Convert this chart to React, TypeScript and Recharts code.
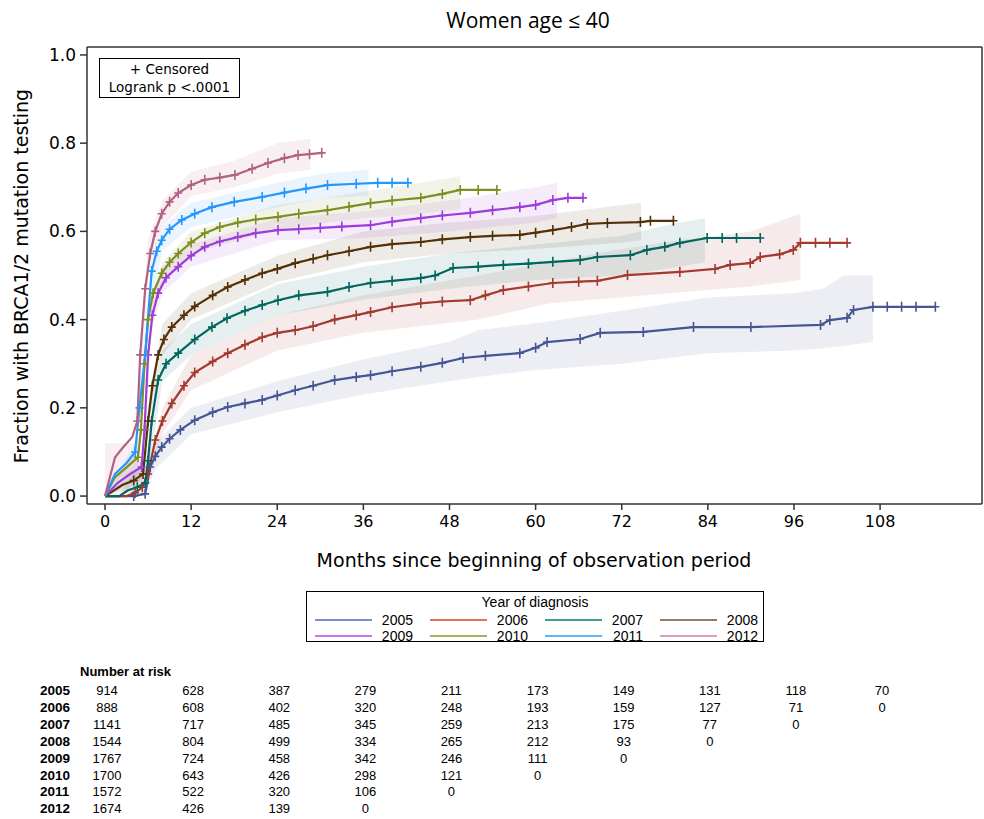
import React from 'react'
import { ComposedChart, Line, Area, XAxis, YAxis } from 'recharts'

type Pt = [number, number]
type Band = [number, number, number]

const years = ['2005', '2006', '2007', '2008', '2009', '2010', '2011', '2012']
const lineColors = ['#445694', '#A23A2E', '#01665E', '#543005', '#9D3CDB', '#7F8E1F', '#2597FA', '#B26084']
const legendColors = ['#7f88d4', '#e0725f', '#3f9e8e', '#9c7b5c', '#c278f0', '#aab05c', '#62b4f5', '#e0a0b4']

// months, fraction tested
const curve2005: Pt[] = [
  [0, 0], [4, 0], [5.6, 0.005], [6.3, 0.066], [7, 0.09], [7.9, 0.111], [9, 0.13], [10.5, 0.15], [12.5, 0.172],
  [15, 0.19], [17.1, 0.202], [19.5, 0.21], [21.9, 0.218], [24, 0.228], [26.5, 0.24], [29, 0.25], [32, 0.263],
  [35, 0.27], [37, 0.274], [40, 0.283], [44, 0.293], [47, 0.302], [49.9, 0.313], [53, 0.318], [57.8, 0.324],
  [60, 0.336], [61.6, 0.349], [66.2, 0.356], [69, 0.37], [75, 0.372], [82, 0.383], [90, 0.383], [99.7, 0.388],
  [101, 0.399], [103.4, 0.404], [104.3, 0.422], [107, 0.429], [109, 0.429], [111, 0.429], [113, 0.429], [115.7, 0.429],
]
const curve2006: Pt[] = [
  [0, 0], [3, 0], [4.2, 0.007], [5.2, 0.02], [6, 0.05], [7, 0.127], [8, 0.17], [9.3, 0.21], [11, 0.25], [12.5, 0.28],
  [15, 0.305], [17.1, 0.324], [19.5, 0.343], [21.9, 0.36], [24, 0.37], [26.5, 0.376], [29, 0.385], [32, 0.4],
  [35, 0.41], [37, 0.417], [40, 0.428], [44, 0.437], [47, 0.441], [50.9, 0.444], [53, 0.455], [55.5, 0.467],
  [59, 0.475], [62.4, 0.483], [66, 0.486], [68.6, 0.488], [72.8, 0.501], [80.1, 0.508], [85, 0.515], [87.1, 0.524],
  [89.9, 0.528], [91.3, 0.542], [94, 0.548], [95.9, 0.558], [96.9, 0.574], [99, 0.574], [101, 0.574], [103.4, 0.574],
]
const curve2007: Pt[] = [
  [0, 0], [2, 0], [3.2, 0.013], [4.5, 0.02], [5.6, 0.03], [6, 0.08], [6.5, 0.17], [7.4, 0.263], [8.5, 0.3],
  [10.2, 0.324], [12.5, 0.355], [14.9, 0.383], [17, 0.403], [19.5, 0.42], [21.9, 0.433], [24.1, 0.444], [27, 0.455],
  [31, 0.463], [34, 0.474], [37, 0.483], [40, 0.488], [44, 0.494], [46, 0.5], [48.5, 0.517], [52, 0.52],
  [55.5, 0.524], [59, 0.527], [62.4, 0.531], [66.2, 0.535], [68.6, 0.542], [73.2, 0.546], [75.5, 0.558], [78, 0.565],
  [80.1, 0.574], [83.9, 0.585], [86, 0.585], [88, 0.585], [91.3, 0.585],
]
const curve2008: Pt[] = [
  [0, 0], [1, 0.01], [2.4, 0.025], [4, 0.035], [5.3, 0.05], [6, 0.17], [6.6, 0.25], [7.4, 0.32], [8.2, 0.355],
  [9.3, 0.383], [11, 0.41], [12.5, 0.43], [15, 0.455], [17.1, 0.474], [19.5, 0.49], [21.9, 0.505], [24, 0.515],
  [26.5, 0.528], [29, 0.538], [31, 0.546], [34, 0.555], [37, 0.565], [40, 0.571], [44, 0.576], [47, 0.582],
  [50.9, 0.587], [54, 0.59], [57.8, 0.592], [60, 0.597], [62.4, 0.603], [65, 0.61], [67.2, 0.617], [70, 0.619],
  [74.6, 0.621], [76, 0.624], [79.2, 0.624],
]
const curve2009: Pt[] = [
  [0, 0], [1.8, 0.03], [3.5, 0.05], [5.1, 0.066], [5.5, 0.15], [6, 0.32], [6.6, 0.41], [7.4, 0.46], [8.5, 0.495],
  [10.2, 0.52], [12, 0.545], [13.9, 0.565], [16, 0.577], [18.5, 0.587], [21, 0.596], [24.1, 0.603], [27, 0.605],
  [30, 0.608], [33, 0.611], [37, 0.614], [40, 0.622], [44, 0.63], [47, 0.636], [50.9, 0.642], [54, 0.648],
  [57.8, 0.655], [60, 0.66], [62.4, 0.671], [64.5, 0.676], [66.6, 0.676],
]
const curve2010: Pt[] = [
  [0, 0], [1.4, 0.043], [3, 0.065], [4.6, 0.088], [5, 0.15], [5.5, 0.3], [6, 0.4], [6.7, 0.46], [7.9, 0.505],
  [9, 0.53], [10.2, 0.55], [12, 0.575], [13.9, 0.596], [16, 0.61], [18.5, 0.62], [21, 0.627], [24.1, 0.633],
  [27, 0.64], [31, 0.648], [34, 0.656], [37, 0.664], [40, 0.67], [44, 0.676], [47, 0.685], [49.5, 0.694],
  [52, 0.694], [54.6, 0.694],
]
const curve2011: Pt[] = [
  [0, 0], [1.4, 0.05], [3, 0.075], [4.2, 0.1], [4.8, 0.2], [5.6, 0.32], [6.5, 0.51], [7.2, 0.555], [7.9, 0.58],
  [9, 0.605], [10.7, 0.626], [12.5, 0.64], [14.9, 0.655], [18, 0.667], [21.9, 0.678], [25, 0.688], [28, 0.697],
  [31, 0.705], [35, 0.708], [38, 0.71], [40, 0.71], [42.2, 0.71],
]
const curve2012: Pt[] = [
  [0, 0], [1.4, 0.088], [2.5, 0.11], [3.8, 0.134], [4.5, 0.17], [4.9, 0.32], [5.6, 0.47], [6.3, 0.55], [7, 0.6],
  [7.9, 0.64], [9, 0.667], [10.2, 0.687], [12, 0.705], [13.9, 0.717], [16, 0.722], [18.1, 0.728], [20.5, 0.742],
  [22.7, 0.755], [25, 0.766], [26.9, 0.773], [28.5, 0.775], [30.2, 0.778],
]

// months, lower, upper confidence limit
const band2005: Band[] = [
  [4, 0, 0], [5.6, 0, 0.02], [7, 0.06, 0.12], [12, 0.14, 0.2], [24, 0.19, 0.26], [36, 0.23, 0.31], [48, 0.26, 0.35],
  [52, 0.27, 0.376], [60, 0.286, 0.392], [72, 0.3, 0.42], [84, 0.324, 0.45], [96, 0.33, 0.46], [100, 0.335, 0.47],
  [103, 0.34, 0.5], [107, 0.35, 0.5],
]
const band2006: Band[] = [
  [3, 0, 0], [6, 0.03, 0.07], [8, 0.14, 0.2], [12, 0.24, 0.32], [24, 0.33, 0.41], [36, 0.37, 0.455], [52, 0.4, 0.5],
  [62, 0.437, 0.53], [72, 0.45, 0.56], [80, 0.462, 0.58], [90, 0.475, 0.6], [96.9, 0.49, 0.64],
]
const band2007: Band[] = [
  [2, 0, 0], [6, 0.05, 0.11], [8, 0.26, 0.33], [12, 0.32, 0.39], [24, 0.41, 0.48], [36, 0.445, 0.52],
  [48, 0.47, 0.55], [60, 0.49, 0.57], [72, 0.5, 0.59], [80, 0.52, 0.62], [83.6, 0.53, 0.63],
]
const band2008: Band[] = [
  [0, 0, 0], [5.3, 0.03, 0.07], [6, 0.15, 0.2], [8, 0.32, 0.39], [12, 0.4, 0.46], [24, 0.485, 0.545],
  [36, 0.53, 0.6], [48, 0.55, 0.62], [60, 0.56, 0.635], [72, 0.575, 0.66], [74.7, 0.58, 0.665],
]
const band2009: Band[] = [
  [0, 0, 0], [5.1, 0.05, 0.09], [5.5, 0.13, 0.17], [6.5, 0.38, 0.44], [8, 0.46, 0.52], [12, 0.52, 0.57],
  [24, 0.58, 0.63], [36, 0.585, 0.645], [48, 0.6, 0.67], [60, 0.62, 0.7], [63, 0.63, 0.71],
]
const band2010: Band[] = [
  [0, 0, 0], [4.6, 0.07, 0.11], [5, 0.13, 0.18], [6, 0.37, 0.43], [8, 0.48, 0.53], [12, 0.55, 0.6],
  [24, 0.605, 0.66], [36, 0.63, 0.69], [44, 0.64, 0.71], [49.5, 0.65, 0.725],
]
const band2011: Band[] = [
  [0, 0, 0], [4.2, 0.08, 0.12], [4.5, 0.12, 0.18], [6, 0.4, 0.47], [8, 0.555, 0.61], [12, 0.61, 0.665],
  [24, 0.655, 0.71], [30, 0.675, 0.73], [36.7, 0.68, 0.74],
]
const band2012: Band[] = [
  [0, 0, 0.12], [4.2, 0, 0.12], [4.6, 0.12, 0.2], [5, 0.28, 0.36], [6, 0.5, 0.58], [8, 0.61, 0.67],
  [12, 0.68, 0.735], [18, 0.7, 0.76], [24, 0.73, 0.8], [28.6, 0.74, 0.81],
]

const monthTicks = [0, 12, 24, 36, 48, 60, 72, 84, 96, 108]
const fractionTicks = [0, 0.2, 0.4, 0.6, 0.8, 1.0]

const risk2005 = [914, 628, 387, 279, 211, 173, 149, 131, 118, 70]
const risk2006 = [888, 608, 402, 320, 248, 193, 159, 127, 71, 0]
const risk2007 = [1141, 717, 485, 345, 259, 213, 175, 77, 0]
const risk2008 = [1544, 804, 499, 334, 265, 212, 93, 0]
const risk2009 = [1767, 724, 458, 342, 246, 111, 0]
const risk2010 = [1700, 643, 426, 298, 121, 0]
const risk2011 = [1572, 522, 320, 106, 0]
const risk2012 = [1674, 426, 139, 0]

const curves = [curve2005, curve2006, curve2007, curve2008, curve2009, curve2010, curve2011, curve2012]
const bands = [band2005, band2006, band2007, band2008, band2009, band2010, band2011, band2012]
const risks = [risk2005, risk2006, risk2007, risk2008, risk2009, risk2010, risk2011, risk2012]

const series = years.map((year, i) => ({
  year,
  color: lineColors[i],
  curve: curves[i].map(([m, v]) => ({ m, v })),
  band: bands[i].map(([m, lo, hi]) => ({ m, r: [lo, hi] })),
}))

// layout of the plot frame
const W = 984
const PLOT_L = 87
const PLOT_R = 982
const PLOT_T = 47
const PLOT_B = 504
const X_MIN = -2.51
const X_MAX = 122.2
const xPx = (m: number) => PLOT_L + ((m - X_MIN) / (X_MAX - X_MIN)) * (PLOT_R - PLOT_L)

const tickFont = { fill: '#000', fontSize: 17, fontFamily: 'DejaVu Sans' }

const plusDot = (color: string) => (props: any) => {
  const { cx, cy, index, payload } = props
  if (cx == null || cy == null || payload.m < 4) return <g key={`d${index}`} />
  return (
    <path
      key={`d${index}`}
      d={`M${cx - 4},${cy}h8M${cx},${cy - 5}v10`}
      stroke={color}
      strokeWidth={1.6}
      fill="none"
    />
  )
}

const abs = (left: number, top: number, extra: React.CSSProperties = {}): React.CSSProperties => ({
  position: 'absolute',
  left,
  top,
  whiteSpace: 'nowrap',
  ...extra,
})

export default function App() {
  return (
    <div style={{ position: 'absolute', left: 0, top: 0, width: W, height: 819, background: '#fff', fontFamily: 'DejaVu Sans', color: '#000' }}>
      <div style={abs(528, 20, { transform: 'translate(-50%,-50%)', fontFamily: 'Open Sans', fontSize: 21 })}>
        Women age ≤ 40
      </div>
      <div style={abs(21, 276, { transform: 'translate(-50%,-50%) rotate(-90deg)', fontSize: 19 })}>
        Fraction with BRCA1/2 mutation testing
      </div>
      <div style={abs(534, 560, { transform: 'translate(-50%,-50%)', fontSize: 19 })}>
        Months since beginning of observation period
      </div>

      <ComposedChart
        width={W}
        height={PLOT_B + 56}
        margin={{ top: PLOT_T - 1, right: W - PLOT_R - 1, bottom: 0, left: 0 }}
        style={{ position: 'absolute', left: 0, top: 0 }}
      >
        <XAxis
          xAxisId="b"
          type="number"
          dataKey="m"
          domain={[X_MIN, X_MAX]}
          ticks={monthTicks}
          allowDataOverflow
          height={56}
          tickSize={6}
          tickMargin={6}
          tick={{ ...tickFont, fontSize: 16 }}
          axisLine={{ stroke: '#333', strokeWidth: 1.5 }}
          tickLine={{ stroke: '#333', strokeWidth: 1.5 }}
        />
        <XAxis xAxisId="t" type="number" orientation="top" domain={[X_MIN, X_MAX]} height={1} tick={false} tickLine={false} axisLine={{ stroke: '#333', strokeWidth: 1.5 }} />
        <YAxis
          yAxisId="l"
          type="number"
          domain={[-0.018, 1.018]}
          ticks={fractionTicks}
          allowDataOverflow
          width={PLOT_L}
          tickSize={7}
          tickMargin={4}
          tick={tickFont}
          tickFormatter={(v: number) => v.toFixed(1)}
          axisLine={{ stroke: '#333', strokeWidth: 1.5 }}
          tickLine={{ stroke: '#333', strokeWidth: 1.5 }}
        />
        <YAxis yAxisId="r" orientation="right" domain={[0, 1]} width={1} tick={false} tickLine={false} axisLine={{ stroke: '#333', strokeWidth: 1.5 }} />

        {series.map(s => (
          <Area
            key={`band${s.year}`}
            xAxisId="b"
            yAxisId="l"
            data={s.band}
            dataKey="r"
            type="linear"
            stroke="none"
            fill={s.color}
            fillOpacity={0.1}
            isAnimationActive={false}
            activeDot={false}
          />
        ))}
        {series.map(s => (
          <Line
            key={`line${s.year}`}
            xAxisId="b"
            yAxisId="l"
            data={s.curve}
            dataKey="v"
            type="linear"
            stroke={s.color}
            strokeWidth={2.2}
            dot={plusDot(s.color)}
            activeDot={false}
            isAnimationActive={false}
          />
        ))}
      </ComposedChart>

      {/* inset box */}
      <div style={abs(99, 58, { width: 139, height: 37, border: '1.5px solid #000', fontSize: 13.5, textAlign: 'center', lineHeight: '18px', paddingTop: 1 })}>
        <div>+ Censored</div>
        <div>Logrank p &lt;.0001</div>
      </div>

      {/* legend */}
      <div style={abs(306, 591, { width: 456, height: 49, border: '1.5px solid #000', fontFamily: 'Liberation Sans', fontSize: 14 })}>
        <div style={{ textAlign: 'center', lineHeight: '18px', marginTop: 1 }}>Year of diagnosis</div>
        {years.map((y, i) => {
          const col = i % 4
          const row = Math.floor(i / 4)
          const left = 8 + col * 115
          const top = 20 + row * 16
          return (
            <div key={y} style={{ position: 'absolute', left, top, width: 98, height: 16 }}>
              <div style={{ position: 'absolute', left: 0, top: 7, width: 57, height: 2, background: legendColors[i] }} />
              <div style={{ position: 'absolute', right: 0, top: 0, lineHeight: '16px' }}>{y}</div>
            </div>
          )
        })}
      </div>

      {/* number at risk */}
      <div style={abs(80, 664, { fontFamily: 'Liberation Sans', fontWeight: 'bold', fontSize: 13 })}>Number at risk</div>
      {years.map((y, i) => {
        const top = 690 + i * 16.9
        return (
          <React.Fragment key={`risk${y}`}>
            <div style={abs(40, top, { transform: 'translateY(-50%)', fontFamily: 'Liberation Sans', fontWeight: 'bold', fontSize: 13.5 })}>{y}</div>
            {risks[i].map((n, j) => (
              <div key={j} style={abs(xPx(monthTicks[j]) + 2, top, { transform: 'translate(-50%,-50%)', fontFamily: 'Liberation Sans', fontSize: 13 })}>
                {n}
              </div>
            ))}
          </React.Fragment>
        )
      })}
    </div>
  )
}
